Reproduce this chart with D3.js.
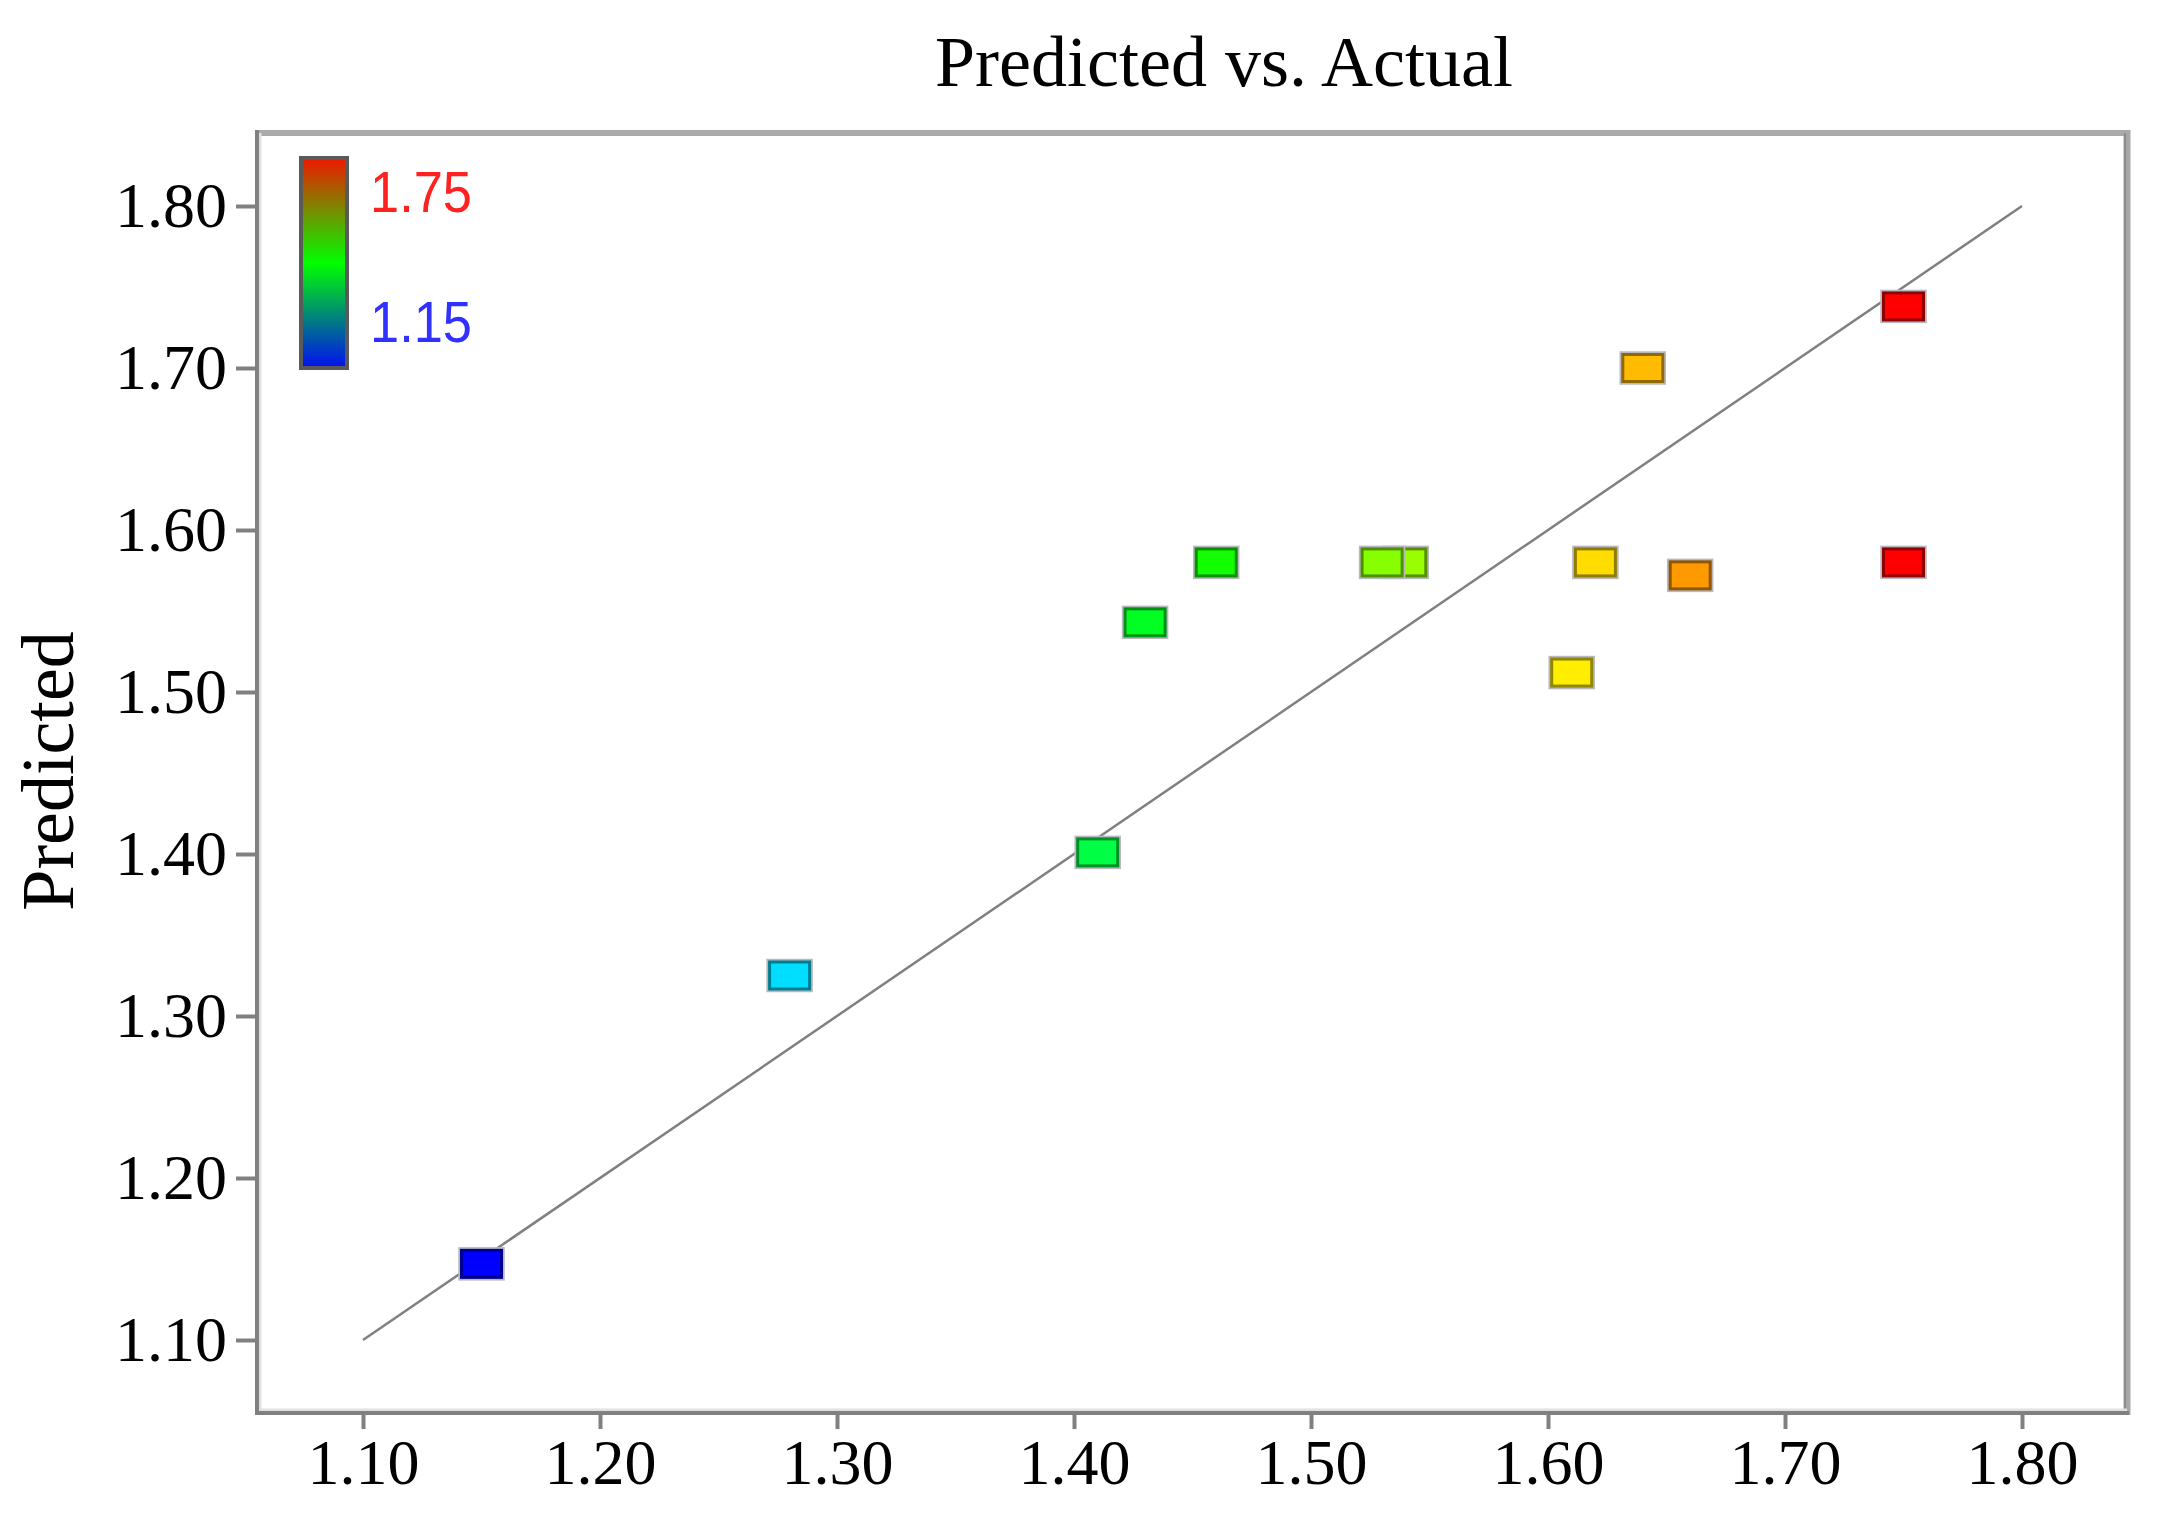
<!DOCTYPE html>
<html>
<head>
<meta charset="utf-8">
<script src="https://cdn.jsdelivr.net/npm/d3@7"></script>
<style>
  body { margin: 0; background: #fff; }
  svg { display: block; }
</style>
</head>
<body>
<svg id="chart"></svg>
<script>
// Data
const actual    = [1.15, 1.28, 1.41, 1.43, 1.46, 1.54, 1.53, 1.61, 1.62, 1.64, 1.66, 1.75, 1.75];
const predicted = [1.147, 1.325, 1.401, 1.543, 1.580, 1.580, 1.580, 1.512, 1.580, 1.700, 1.572, 1.738, 1.580];
const tickValues = [1.10, 1.20, 1.30, 1.40, 1.50, 1.60, 1.70, 1.80];
const colorRange = [1.15, 1.75];
const titleText = 'Predicted vs. Actual';
const yLabelText = 'Predicted';

const width = 2167;
const height = 1516;
const frame = { left: 257, right: 2127, top: 133, bottom: 1413 };

const svg = d3.select('#chart')
  .attr('width', width)
  .attr('height', height);

// scales
const x = d3.scaleLinear().domain([1.10, 1.80]).range([363, 2022]);
const y = d3.scaleLinear().domain([1.10, 1.80]).range([1340, 206]);
const hue = d3.scaleLinear().domain(colorRange).range([240, 0]).clamp(true);
const color = v => d3.hsl(hue(v), 1, 0.5).formatHex();

// frame: light top/right, darker left/bottom
svg.append('line')
  .attr('x1', frame.left).attr('x2', frame.right + 3)
  .attr('y1', frame.top).attr('y2', frame.top)
  .attr('stroke', '#aaa').attr('stroke-width', 6);
svg.append('line')
  .attr('x1', frame.right).attr('x2', frame.right)
  .attr('y1', frame.top - 3).attr('y2', frame.bottom + 2)
  .attr('stroke', '#a8a8a8').attr('stroke-width', 7);
svg.append('line')
  .attr('x1', frame.right - 2).attr('x2', frame.right - 2)
  .attr('y1', frame.top).attr('y2', frame.bottom)
  .attr('stroke', '#8c8c8c').attr('stroke-width', 2);
svg.append('line')
  .attr('x1', frame.left + 4).attr('x2', frame.right)
  .attr('y1', frame.bottom - 3).attr('y2', frame.bottom - 3)
  .attr('stroke', '#e0e0e0').attr('stroke-width', 3);
svg.append('line')
  .attr('x1', frame.left + 3).attr('x2', frame.left + 3)
  .attr('y1', frame.top).attr('y2', frame.bottom)
  .attr('stroke', '#e0e0e0').attr('stroke-width', 3);

// x axis
const xAxis = svg.append('g')
  .attr('transform', 'translate(0,' + frame.bottom + ')')
  .call(d3.axisBottom(x).tickValues(tickValues).tickFormat(d3.format('.2f'))
    .tickSize(16).tickPadding(10));
xAxis.select('.domain')
  .attr('d', 'M' + (frame.left - 2) + ',0H' + (frame.right + 2))
  .attr('stroke', '#808080').attr('stroke-width', 4);
xAxis.selectAll('.tick line').attr('stroke', '#808080').attr('stroke-width', 4);
xAxis.selectAll('.tick text')
  .attr('fill', '#000')
  .attr('font-family', '"Liberation Serif", "Times New Roman", serif')
  .attr('font-size', 64);

// y axis
const yAxis = svg.append('g')
  .attr('transform', 'translate(' + frame.left + ',0)')
  .call(d3.axisLeft(y).tickValues(tickValues).tickFormat(d3.format('.2f'))
    .tickSize(21).tickPadding(9));
yAxis.select('.domain')
  .attr('d', 'M0,' + (frame.top - 3) + 'V' + (frame.bottom + 2))
  .attr('stroke', '#808080').attr('stroke-width', 4);
yAxis.selectAll('.tick line').attr('stroke', '#808080').attr('stroke-width', 4);
yAxis.selectAll('.tick text')
  .attr('fill', '#000')
  .attr('font-family', '"Liberation Serif", "Times New Roman", serif')
  .attr('font-size', 64);

// 45 degree reference line
svg.append('line')
  .attr('x1', x(1.10)).attr('y1', y(1.10))
  .attr('x2', x(1.80)).attr('y2', y(1.80))
  .attr('stroke', '#808080')
  .attr('stroke-width', 2.5);

// points
const points = actual.map((a, i) => ({ a: a, p: predicted[i] }));
const pw = 40, ph = 27;
const pts = svg.append('g').selectAll('g')
  .data(points)
  .join('g');
pts.append('rect')
  .attr('x', d => x(d.a) - pw / 2 - 2)
  .attr('y', d => y(d.p) - ph / 2 - 2)
  .attr('width', pw + 4).attr('height', ph + 4)
  .attr('fill', 'none')
  .attr('stroke', '#b8b8c0').attr('stroke-width', 2.5);
pts.append('rect')
  .attr('x', d => x(d.a) - pw / 2)
  .attr('y', d => y(d.p) - ph / 2)
  .attr('width', pw).attr('height', ph)
  .attr('fill', d => color(d.a))
  .attr('stroke', d => d3.color(color(d.a)).darker(1.6))
  .attr('stroke-width', 3);

// colour legend
const defs = svg.append('defs');
const grad = defs.append('linearGradient')
  .attr('id', 'legendGrad')
  .attr('x1', 0).attr('x2', 0).attr('y1', 0).attr('y2', 1);
grad.append('stop').attr('offset', '0%').attr('stop-color', '#f01800');
grad.append('stop').attr('offset', '50%').attr('stop-color', '#00ff00');
grad.append('stop').attr('offset', '100%').attr('stop-color', '#0010f0');

svg.append('rect')
  .attr('x', 301).attr('y', 158)
  .attr('width', 46).attr('height', 210)
  .attr('fill', 'url(#legendGrad)')
  .attr('stroke', '#5a5a5a').attr('stroke-width', 4);

svg.append('text')
  .attr('x', 370).attr('y', 212)
  .attr('fill', '#ff2020')
  .attr('font-family', '"Liberation Sans", Arial, sans-serif')
  .attr('font-size', 58)
  .attr('textLength', 102).attr('lengthAdjust', 'spacingAndGlyphs')
  .text(d3.format('.2f')(colorRange[1]));
svg.append('text')
  .attr('x', 370).attr('y', 342)
  .attr('fill', '#3030ff')
  .attr('font-family', '"Liberation Sans", Arial, sans-serif')
  .attr('font-size', 58)
  .attr('textLength', 102).attr('lengthAdjust', 'spacingAndGlyphs')
  .text(d3.format('.2f')(colorRange[0]));

// title
svg.append('text')
  .attr('x', 1224).attr('y', 86)
  .attr('text-anchor', 'middle')
  .attr('fill', '#000')
  .attr('font-family', '"Liberation Serif", "Times New Roman", serif')
  .attr('font-size', 72)
  .text(titleText);

// y axis label
svg.append('text')
  .attr('transform', 'translate(73,771) rotate(-90)')
  .attr('text-anchor', 'middle')
  .attr('fill', '#000')
  .attr('font-family', '"Liberation Serif", "Times New Roman", serif')
  .attr('font-size', 74)
  .text(yLabelText);
</script>
</body>
</html>
